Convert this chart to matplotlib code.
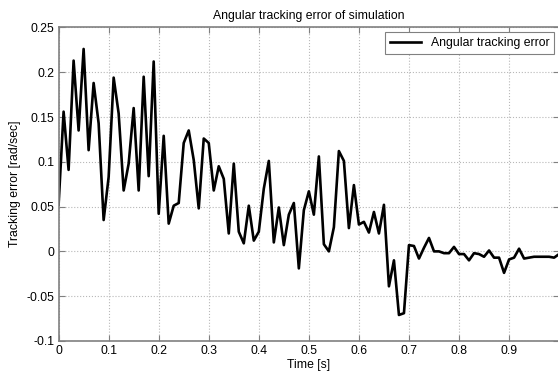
import numpy as np
import matplotlib
matplotlib.use('Agg')
import matplotlib.pyplot as plt

plt.rcParams['font.family'] = ['Liberation Sans', 'DejaVu Sans']

# time samples (s) and error values (rad/sec)
t = np.arange(101) / 100.0
err = [0.052, 0.156, 0.091, 0.213, 0.135, 0.226, 0.113, 0.188, 0.143, 0.035,
       0.083, 0.194, 0.154, 0.068, 0.098, 0.160, 0.068, 0.195, 0.084, 0.212,
       0.042, 0.129, 0.031, 0.051, 0.054, 0.121, 0.135, 0.102, 0.048, 0.126,
       0.121, 0.068, 0.095, 0.081, 0.020, 0.098, 0.022, 0.009, 0.051, 0.012,
       0.022, 0.070, 0.101, 0.010, 0.049, 0.007, 0.041, 0.054, -0.019, 0.046,
       0.067, 0.041, 0.106, 0.008, 0.000, 0.027, 0.112, 0.101, 0.026, 0.074,
       0.030, 0.033, 0.021, 0.044, 0.020, 0.052, -0.039, -0.010, -0.071, -0.069,
       0.007, 0.006, -0.008, 0.004, 0.015, 0.000, 0.000, -0.002, -0.002, 0.005,
       -0.003, -0.003, -0.010, -0.002, -0.003, -0.006, 0.001, -0.007, -0.007, -0.024,
       -0.009, -0.007, 0.003, -0.008, -0.007, -0.006, -0.006, -0.006, -0.006, -0.007,
       -0.003]

xticks = [0, 0.1, 0.2, 0.3, 0.4, 0.5, 0.6, 0.7, 0.8, 0.9]
xtick_labels = ['0', '0.1', '0.2', '0.3', '0.4', '0.5', '0.6', '0.7', '0.8', '0.9']
yticks = [-0.1, -0.05, 0, 0.05, 0.1, 0.15, 0.2, 0.25]
ytick_labels = ['-0.1', '-0.05', '0', '0.05', '0.1', '0.15', '0.2', '0.25']

fig = plt.figure(figsize=(5.58, 3.71), dpi=100)
ax = fig.add_axes([0.105, 0.081, 0.897, 0.845])

ax.plot(t, err, color='k', linewidth=1.9, label='Angular tracking error')

ax.set_xlim(0, 1)
ax.set_ylim(-0.1, 0.25)
ax.set_xticks(xticks)
ax.set_xticklabels(xtick_labels)
ax.set_yticks(yticks)
ax.set_yticklabels(ytick_labels)

gray = '#808080'
ax.grid(True, linestyle=':', color='#b8b8b8', linewidth=0.8)
for s in ax.spines.values():
    s.set_color(gray)
    s.set_linewidth(1.2)
ax.tick_params(direction='in', length=4, color=gray, labelsize=8.8,
               top=True, right=True, pad=3)

ax.set_title('Angular tracking error of simulation', fontsize=8.8, pad=6)
ax.set_xlabel('Time [s]', fontsize=8.8, labelpad=1)
ax.set_ylabel('Tracking error [rad/sec]', fontsize=8.8, labelpad=4)

leg = ax.legend(loc='upper right', fontsize=8.8, fancybox=False, framealpha=1,
                edgecolor=gray, borderaxespad=0.4, handlelength=2.5)
leg.get_frame().set_linewidth(0.8)

fig.savefig('out.png', dpi=100)
